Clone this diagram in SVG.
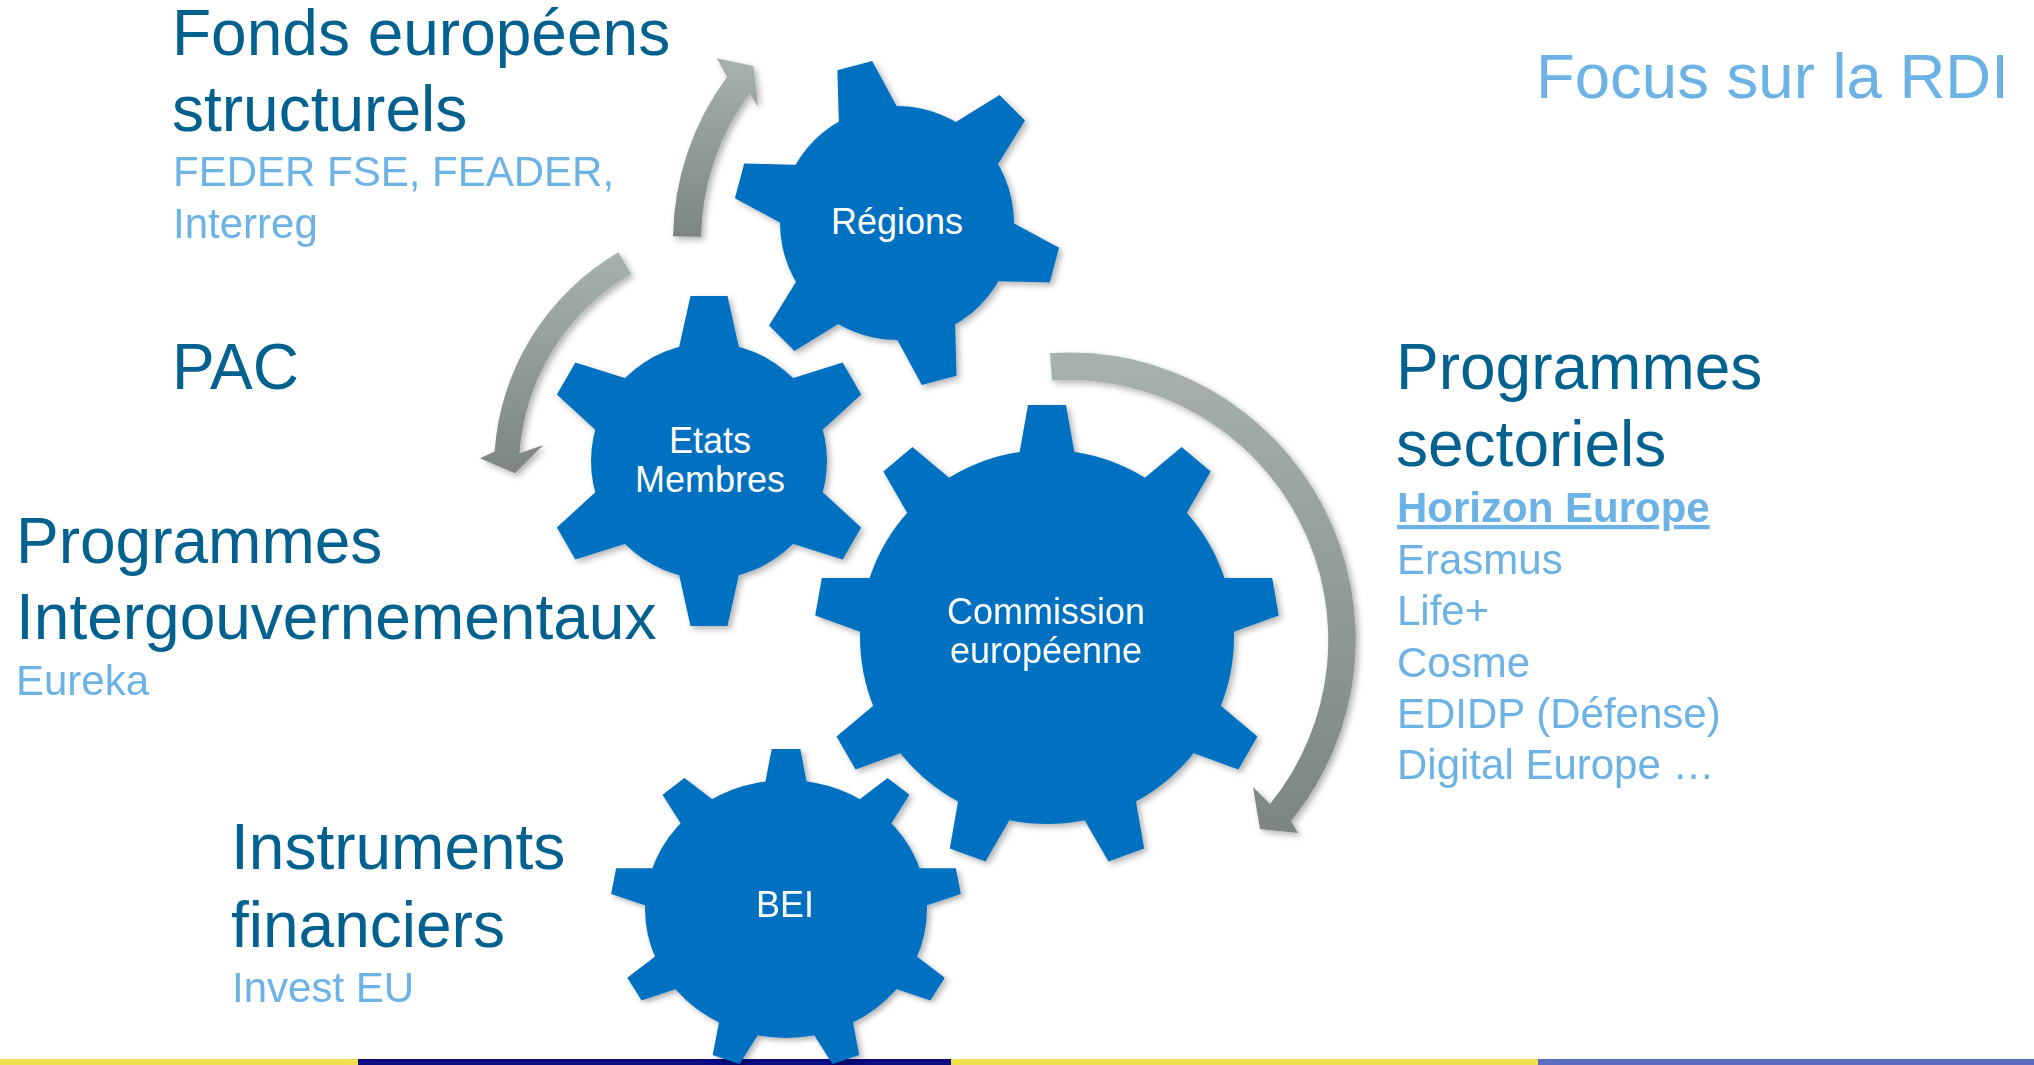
<svg xmlns="http://www.w3.org/2000/svg" xmlns:xlink="http://www.w3.org/1999/xlink" width="2034" height="1065" viewBox="0 0 2034 1065">
  <style>
    .title { font-family: "Liberation Sans", Arial, sans-serif; font-size: 64px; fill: #02618E; }
    .sub { font-family: "Liberation Sans", Arial, sans-serif; font-size: 42px; fill: #6CB2E4; }
    .focus { font-family: "Liberation Sans", Arial, sans-serif; font-size: 63.5px; fill: #6CB2E4; }
    .gear { fill: #0070C0; }
    .glabel { font-family: "Liberation Sans", Arial, sans-serif; font-size: 36px; fill: #FFFFFF; text-anchor: middle; }
    .arrow { fill: url(#arrowGrad); }
  </style>
  <defs>
    <filter id="shadow" x="-10%" y="-10%" width="125%" height="125%">
      <feDropShadow dx="3" dy="3" stdDeviation="3" flood-color="#000000" flood-opacity="0.3"/>
    </filter>
    <linearGradient id="arrowGrad" x1="0" y1="0" x2="0" y2="1">
      <stop offset="0" stop-color="#A7B2AC"/>
      <stop offset="1" stop-color="#7C8580"/>
    </linearGradient>
    <polygon id="tooth6r" points="-33,-100 -18,-163 18,-163 33,-100"/>
    <polygon id="tooth6e" points="-33,-100 -18.5,-165 18.5,-165 33,-100"/>
    <polygon id="tooth9c" points="-30,-170 -19,-232 19,-232 30,-170"/>
    <polygon id="tooth9b" points="-22.6,-128 -14.3,-175 14.3,-175 22.6,-128"/>
  </defs>

  <rect x="0" y="0" width="2034" height="1065" fill="#FFFFFF"/>

  <!-- bottom colour bar -->
  <g id="bottom-bar">
    <rect x="0" y="1059" width="358" height="6" fill="#F1DE4C"/>
    <rect x="358" y="1059" width="593" height="6" fill="#0B0B82"/>
    <rect x="951" y="1059" width="587" height="6" fill="#F1DE4C"/>
    <rect x="1538" y="1059" width="496" height="6" fill="#5B6DBE"/>
  </g>

  <!-- connectors (circular arrows) -->
  <g id="connectors" filter="url(#shadow)">
    <path id="arrow-up" class="arrow" d="M673,236.2 A276,276 0 0 1 727.1,76.8 L716.7,58.3 L753.3,66 L758.3,106.7 L749.6,93.5 A248,248 0 0 0 701,236.7 Z"/>
    <path id="arrow-down-left" class="arrow" d="M618.4,252.3 A251,251 0 0 0 494.6,451.5 L480,458.3 L515,473.3 L543.3,445 L519.5,453.2 A226,226 0 0 1 631,273.9 Z"/>
    <path id="arrow-right" class="arrow" d="M1050,353 A287,287 0 0 1 1291,821 L1298,833 L1260,829 L1253,787 L1270,804 A260,260 0 0 0 1052,380.5 Z"/>
  </g>

  <!-- gear nodes -->
  <g id="node-regions">
    <g class="gear" filter="url(#shadow)" transform="translate(897,223)">
      <circle r="117"/>
      <use xlink:href="#tooth6r" transform="rotate(-15)"/>
      <use xlink:href="#tooth6r" transform="rotate(45)"/>
      <use xlink:href="#tooth6r" transform="rotate(105)"/>
      <use xlink:href="#tooth6r" transform="rotate(165)"/>
      <use xlink:href="#tooth6r" transform="rotate(225)"/>
      <use xlink:href="#tooth6r" transform="rotate(285)"/>
    </g>
    <text class="glabel" x="897" y="234">Régions</text>
  </g>

  <g id="node-etats-membres">
    <g class="gear" filter="url(#shadow)" transform="translate(709,461)">
      <circle r="118"/>
      <use xlink:href="#tooth6e"/>
      <use xlink:href="#tooth6e" transform="rotate(60)"/>
      <use xlink:href="#tooth6e" transform="rotate(120)"/>
      <use xlink:href="#tooth6e" transform="rotate(180)"/>
      <use xlink:href="#tooth6e" transform="rotate(240)"/>
      <use xlink:href="#tooth6e" transform="rotate(300)"/>
    </g>
    <text class="glabel" x="710" y="453">Etats</text>
    <text class="glabel" x="710" y="492">Membres</text>
  </g>

  <g id="node-commission">
    <g class="gear" filter="url(#shadow)" transform="translate(1047,637)">
      <circle r="187"/>
      <use xlink:href="#tooth9c"/>
      <use xlink:href="#tooth9c" transform="rotate(40)"/>
      <use xlink:href="#tooth9c" transform="rotate(80)"/>
      <use xlink:href="#tooth9c" transform="rotate(120)"/>
      <use xlink:href="#tooth9c" transform="rotate(160)"/>
      <use xlink:href="#tooth9c" transform="rotate(200)"/>
      <use xlink:href="#tooth9c" transform="rotate(240)"/>
      <use xlink:href="#tooth9c" transform="rotate(280)"/>
      <use xlink:href="#tooth9c" transform="rotate(320)"/>
    </g>
    <text class="glabel" x="1046" y="624">Commission</text>
    <text class="glabel" x="1046" y="663">européenne</text>
  </g>

  <g id="node-bei">
    <g class="gear" filter="url(#shadow)" transform="translate(786,909) scale(1,0.915)">
      <circle r="141"/>
      <use xlink:href="#tooth9b"/>
      <use xlink:href="#tooth9b" transform="rotate(40)"/>
      <use xlink:href="#tooth9b" transform="rotate(80)"/>
      <use xlink:href="#tooth9b" transform="rotate(120)"/>
      <use xlink:href="#tooth9b" transform="rotate(160)"/>
      <use xlink:href="#tooth9b" transform="rotate(200)"/>
      <use xlink:href="#tooth9b" transform="rotate(240)"/>
      <use xlink:href="#tooth9b" transform="rotate(280)"/>
      <use xlink:href="#tooth9b" transform="rotate(320)"/>
    </g>
    <text class="glabel" x="785" y="917">BEI</text>
  </g>

  <!-- text blocks -->
  <g id="label-fonds">
    <text class="title" x="172" y="55">Fonds européens</text>
    <text class="title" x="172" y="131">structurels</text>
    <text class="sub" x="173" y="186">FEDER FSE, FEADER,</text>
    <text class="sub" x="173" y="238">Interreg</text>
  </g>

  <g id="label-pac">
    <text class="title" x="172" y="389">PAC</text>
  </g>

  <g id="label-intergouv">
    <text class="title" x="16" y="563">Programmes</text>
    <text class="title" x="16" y="639">Intergouvernementaux</text>
    <text class="sub" x="16" y="695">Eureka</text>
  </g>

  <g id="label-instruments">
    <text class="title" x="231" y="869">Instruments</text>
    <text class="title" x="231" y="947">financiers</text>
    <text class="sub" x="232" y="1002">Invest EU</text>
  </g>

  <g id="label-sectoriels">
    <text class="title" x="1396" y="389">Programmes</text>
    <text class="title" x="1396" y="466">sectoriels</text>
    <text class="sub" x="1397" y="522" font-weight="bold" text-decoration="underline">Horizon Europe</text>
    <text class="sub" x="1397" y="574">Erasmus</text>
    <text class="sub" x="1397" y="625">Life+</text>
    <text class="sub" x="1397" y="677">Cosme</text>
    <text class="sub" x="1397" y="728">EDIDP (Défense)</text>
    <text class="sub" x="1397" y="779">Digital Europe …</text>
  </g>

  <g id="label-focus">
    <text class="focus" x="1536" y="98">Focus sur la RDI</text>
  </g>
</svg>
